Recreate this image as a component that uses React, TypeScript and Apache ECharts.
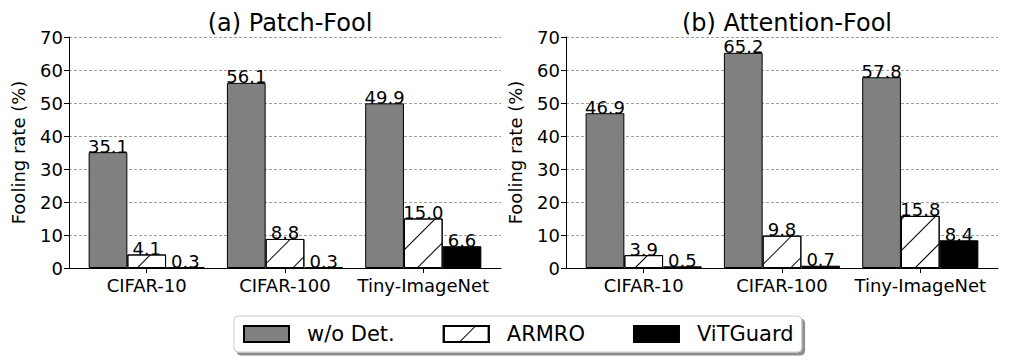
import React, { useEffect, useRef } from "react";
import * as echarts from "echarts";

const categories = ["CIFAR-10", "CIFAR-100", "Tiny-ImageNet"];
const seriesNames = ["w/o Det.", "ARMRO", "ViTGuard"];
const panelTitles = ["(a) Patch-Fool", "(b) Attention-Fool"];
const yAxisName = "Fooling rate (%)";

const patchWoDet = [35.1, 56.1, 49.9];
const patchArmro = [4.1, 8.8, 15.0];
const patchVitguard = [0.3, 0.3, 6.6];
const attnWoDet = [46.9, 65.2, 57.8];
const attnArmro = [3.9, 9.8, 15.8];
const attnVitguard = [0.5, 0.7, 8.4];

const yMin = 0;
const yMax = 70;
const yInterval = 10;

const FONT = "DejaVu Sans";

export default function App() {
  const ref = useRef<HTMLDivElement>(null);
  useEffect(() => {
    document.body.style.margin = "0";
    if (!ref.current) return;
    const chart = echarts.init(ref.current, null, { renderer: "svg" });

    const panels = [
      [patchWoDet, patchArmro, patchVitguard],
      [attnWoDet, attnArmro, attnVitguard],
    ];
    const gridLefts = [69, 566];
    const titleCenters = [285, 782];

    const styles = [
      { color: "#808080", borderColor: "#000", borderWidth: 1 },
      {
        color: "#ffffff",
        borderColor: "#000",
        borderWidth: 1,
        decal: {
          symbol: "rect",
          symbolSize: 1,
          dashArrayX: [1, 0],
          dashArrayY: [1, 21],
          rotation: -Math.PI / 4,
          color: "#000",
        },
      },
      { color: "#000000", borderColor: "#000", borderWidth: 1 },
    ];

    const series: any[] = [];
    panels.forEach((vals, gi) => {
      vals.forEach((arr, si) => {
        series.push({
          type: "bar",
          name: seriesNames[si],
          xAxisIndex: gi,
          yAxisIndex: gi,
          data: arr.map((v, i) => [i, v]),
          barWidth: "28%",
          barGap: "0%",
          itemStyle: styles[si],
          label: {
            show: true,
            position: "top",
            distance: -3,
            fontFamily: FONT,
            fontSize: 18,
            color: "#000",
            formatter: (p: any) => Number(p.value[1]).toFixed(1),
          },
        });
      });
    });

    const option: any = {
      animation: false,
      textStyle: { fontFamily: FONT },
      title: panelTitles.map((t, i) => ({
        text: t,
        left: titleCenters[i],
        top: 6,
        textAlign: "center",
        textStyle: { fontFamily: FONT, fontSize: 24, fontWeight: "normal", color: "#000" },
      })),
      legend: {
        data: seriesNames,
        left: 234,
        top: 316,
        itemWidth: 45,
        itemHeight: 16,
        itemGap: 48,
        icon: "rect",
        padding: [5, 8, 5, 9],
        backgroundColor: "#fff",
        borderColor: "#ccc",
        borderWidth: 1,
        borderRadius: 4,
        shadowColor: "rgba(0,0,0,0.45)",
        shadowOffsetX: 3,
        shadowOffsetY: 3,
        shadowBlur: 1,
        textStyle: {
          fontFamily: FONT,
          fontSize: 21,
          color: "#000",
          padding: [0, 0, 0, 13],
          lineHeight: 26,
        },
      },
      grid: gridLefts.map((l) => ({ left: l, top: 37, width: 432, height: 231 })),
      xAxis: gridLefts.map((_, i) => ({
        type: "value",
        gridIndex: i,
        min: -0.562,
        max: 2.562,
        splitLine: { show: false },
        axisLine: { show: true, onZero: false, lineStyle: { color: "#000", width: 1 } },
        axisTick: { show: true, length: 5, customValues: [0, 1, 2], lineStyle: { color: "#000" } },
        axisLabel: {
          customValues: [0, 1, 2],
          formatter: (v: number) => categories[Math.round(v)] ?? "",
          fontFamily: FONT,
          fontSize: 18,
          color: "#000",
          margin: 8,
        },
      })),
      yAxis: gridLefts.map((_, i) => ({
        type: "value",
        gridIndex: i,
        min: yMin,
        max: yMax,
        interval: yInterval,
        name: yAxisName,
        nameLocation: "middle",
        nameGap: 42,
        nameTextStyle: { fontFamily: FONT, fontSize: 18, color: "#000" },
        axisLine: { show: true, onZero: false, lineStyle: { color: "#000", width: 1 } },
        axisTick: { show: true, length: 5, lineStyle: { color: "#000" } },
        axisLabel: { fontFamily: FONT, fontSize: 18, color: "#000", margin: 6 },
        splitLine: { show: true, lineStyle: { color: "#888", type: [3, 2], width: 0.8 } },
      })),
      series,
    };
    chart.setOption(option);
    return () => chart.dispose();
  }, []);
  return <div ref={ref} style={{ width: 1009, height: 363 }} />;
}
